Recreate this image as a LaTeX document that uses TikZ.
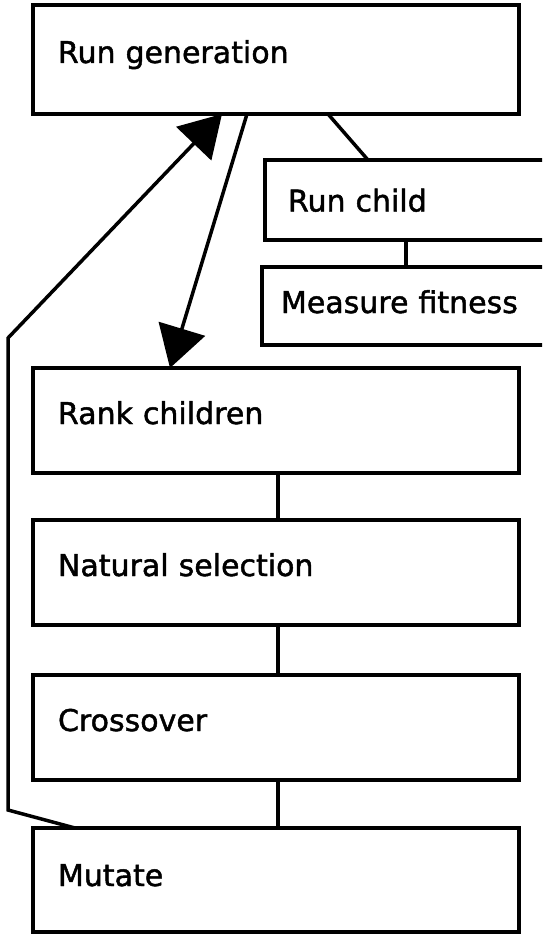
\documentclass[tikz,border=0pt]{standalone}
\usepackage{fontspec}
\setmainfont{DejaVu Sans}
\newfontfamily\boxfont{DejaVu Sans}[FakeBold=1.5]
\usetikzlibrary{arrows.meta,calc}
\tikzset{
  box/.style={draw, line width=3.5pt, rectangle, anchor=north west, outer sep=0pt,
    align=left, inner ysep=0pt, font=\boxfont\fontsize{30}{36}\selectfont,
    text height=22pt, text depth=15pt},
  conn/.style={line width=3.5pt},
  bigtip/.style={-{Triangle[length=41pt,width=48pt]}, line width=3.5pt}
}
\begin{document}
\begin{tikzpicture}[x=1pt,y=-1pt]
\useasboundingbox (0,0) rectangle (542,934);
\clip (0,0) rectangle (542,934);
\node[box, inner xsep=25pt, text width=436pt, minimum height=109pt] (rg) at (33,5) {Run generation};
\node[box, inner xsep=23pt, text width=254pt, minimum height=80pt, text height=23pt, text depth=0pt] (rc) at (265,160) {Run child};
\node[box, inner xsep=19pt, text width=262pt, minimum height=78pt, text depth=8pt] (mf) at (262,267) {Measure fitness};
\node[box, inner xsep=25pt, text width=436pt, minimum height=105pt] (rk) at (33,368) {Rank children};
\node[box, inner xsep=25pt, text width=436pt, minimum height=105pt] (ns) at (33,520) {Natural selection};
\node[box, inner xsep=25pt, text width=436pt, minimum height=105pt] (co) at (33,675) {Crossover};
\node[box, inner xsep=25pt, text width=436pt, minimum height=104pt, text depth=10pt] (mu) at (33,828) {Mutate};

\coordinate (p1) at (8,810);
\coordinate (p2) at (8,338);

\draw[conn] ($(rg.south west)+(295,0)$) -- ($(rc.north west)+(103,0)$);
\draw[conn] ($(rc.south west)+(141,0)$) -- ($(mf.north west)+(144,0)$);
\draw[bigtip] ($(rg.south west)+(214,0)$) -- ($(rk.north west)+(137,0)$);
\draw[conn] ($(rk.south west)+(245,0)$) -- ($(ns.north west)+(245,0)$);
\draw[conn] ($(ns.south west)+(245,0)$) -- ($(co.north west)+(245,0)$);
\draw[conn] ($(co.south west)+(245,0)$) -- ($(mu.north west)+(245,0)$);
\draw[bigtip, line join=miter] ($(mu.north west)+(42,0)$) -- (p1) -- (p2) -- ($(rg.south west)+(189,0)$);
\end{tikzpicture}
\end{document}
